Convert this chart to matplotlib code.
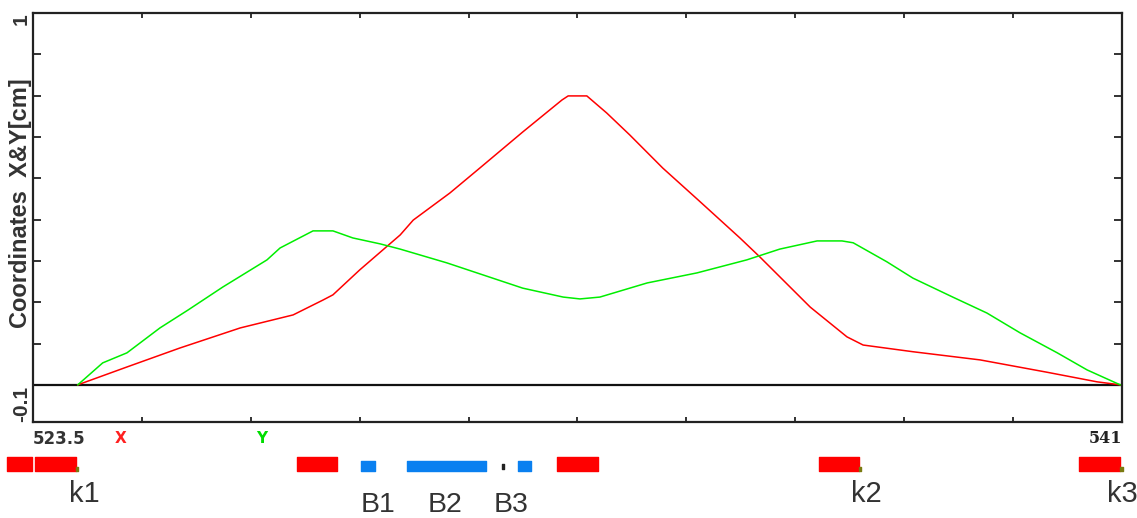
import numpy as np
import matplotlib.pyplot as plt

plt.rcParams['font.family'] = ['Liberation Sans', 'DejaVu Sans']

# X coordinate trace (red)
x_red = [524.22, 525.01, 525.86, 526.83, 527.68, 528.16, 528.32, 528.75, 529.40,
         529.61, 530.20, 530.68, 531.37, 532.00, 532.10, 532.40, 532.72, 533.09,
         533.62, 534.19, 534.86, 535.18, 535.99, 536.58, 536.84, 537.64, 538.72,
         539.79, 540.60, 540.97]
y_red = [0.0, 0.048, 0.099, 0.153, 0.188, 0.228, 0.242, 0.309, 0.403,
         0.443, 0.516, 0.583, 0.680, 0.766, 0.777, 0.777, 0.731, 0.672,
         0.583, 0.497, 0.395, 0.344, 0.209, 0.129, 0.107, 0.089, 0.067,
         0.034, 0.008, 0.0]

# Y coordinate trace (green)
x_green = [524.22, 524.62, 525.01, 525.54, 525.99, 526.55, 527.26, 527.47, 528.00,
           528.32, 528.64, 529.08, 529.40, 530.15, 531.37, 532.02, 532.29, 532.61,
           533.37, 534.17, 534.97, 535.50, 536.10, 536.50, 536.68, 537.22, 537.64,
           538.28, 538.83, 539.36, 539.96, 540.44, 540.97]
y_green = [0.0, 0.059, 0.086, 0.153, 0.201, 0.263, 0.336, 0.368, 0.414,
           0.414, 0.395, 0.379, 0.365, 0.328, 0.260, 0.236, 0.231, 0.236,
           0.274, 0.301, 0.336, 0.365, 0.387, 0.387, 0.382, 0.331, 0.287,
           0.236, 0.193, 0.140, 0.086, 0.040, 0.0]

x_min, x_max = 523.5, 541
y_min, y_max = -0.1, 1

# track segments (start, end)
k_segments = [(523.08, 523.48), (523.53, 524.19), (527.74, 528.39),
              (531.92, 532.58), (536.13, 536.77), (540.31, 540.97)]
b_segments = [(528.77, 528.99), (529.51, 530.78), (531.29, 531.50)]
gap_mark = 531.05
k_ends = [524.19, 536.77, 540.97]
k_names = ['k1', 'k2', 'k3']
k_name_pos = [524.32, 536.90, 541.00]
b_names = ['B1', 'B2', 'B3']
b_name_pos = [529.04, 530.12, 531.18]

W, H = 1137, 518
fig = plt.figure(figsize=(W / 100, H / 100), dpi=100)
ax = fig.add_axes([33 / W, 1 - 422 / H, 1089 / W, 409 / H])

ax.plot(x_red, y_red, color='#ff0000', lw=1.1, zorder=3)
ax.plot(x_green, y_green, color='#00ee00', lw=1.1, zorder=3)
ax.axhline(0, color='#111111', lw=1.6, zorder=2)

ax.set_xlim(x_min, x_max)
ax.set_ylim(y_min, y_max)
ax.set_xticks(np.linspace(x_min, x_max, 11))
ax.set_yticks(np.linspace(0, 1, 10))
ax.set_xticklabels([])
ax.set_yticklabels([])
ax.tick_params(axis='y', direction='in', length=6, width=1.3, left=True, right=True, color='#222222')
ax.tick_params(axis='x', direction='in', length=3.5, width=1.3, bottom=True, top=True, color='#222222')
for s in ax.spines.values():
    s.set_linewidth(1.6)
    s.set_color('#222222')

# axis end labels
lab = dict(fontweight='bold', color='#333333')
ax.text(-0.0105, 1.0, '1', transform=ax.transAxes, rotation=90, ha='center', va='top', fontsize=15, **lab)
ax.text(-0.0105, 0.0, '-0.1', transform=ax.transAxes, rotation=90, ha='center', va='bottom', fontsize=15, **lab)
ax.text(-0.0115, 0.535, 'Coordinates  X&Y[cm]', transform=ax.transAxes, rotation=90,
        ha='center', va='center', fontsize=17, **lab)
ax.text(0.0, -0.02, '523.5', transform=ax.transAxes, ha='left', va='top', fontsize=12,
        family='DejaVu Sans', **lab)
ax.text(1.0, -0.02, '541', transform=ax.transAxes, ha='right', va='top', fontsize=11.5,
        fontweight='bold', color='#222222', family='DejaVu Serif')
ax.text(0.080, -0.022, 'X', transform=ax.transAxes, ha='center', va='top', fontsize=11,
        fontweight='bold', color='#ff2020', family='DejaVu Sans')
ax.text(0.210, -0.022, 'Y', transform=ax.transAxes, ha='center', va='top', fontsize=11,
        fontweight='bold', color='#00dd00', family='DejaVu Sans')

# track below the plot, y in pixels up from the figure bottom
tr = fig.add_axes([33 / W, 0, 1089 / W, 68 / H], sharex=ax)
tr.set_ylim(0, 68)
tr.axis('off')
tr.broken_barh([(s, e - s) for s, e in k_segments], (47, 14), color='#ff0000', clip_on=False)
tr.broken_barh([(s, e - s) for s, e in b_segments], (47, 10), color='#0a80f0', clip_on=False)
tr.broken_barh([(gap_mark - 0.01, 0.03)], (49, 5), color='#222222', clip_on=False)
tr.broken_barh([(e, 0.04) for e in k_ends], (47, 4), color='#7a7a10', clip_on=False)
for name, xp in zip(k_names, k_name_pos):
    tr.text(xp, 16, name, ha='center', va='baseline', fontsize=21, color='#333333', clip_on=False)
for name, xp in zip(b_names, b_name_pos):
    tr.text(xp, 0.5, name, ha='center', va='bottom', fontsize=20.5, color='#333333', clip_on=False)

fig.savefig('out.png', dpi=100)
